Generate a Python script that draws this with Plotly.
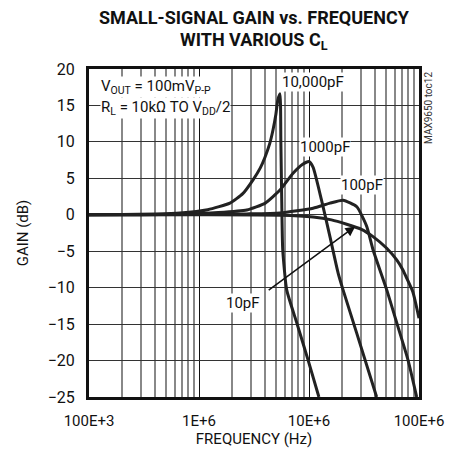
import plotly.graph_objects as go

# ---- data (frequency in Hz, gain in dB) ----
f_10000pF = [1e5, 2e5, 4e5, 6.7e5, 1.2e6, 1.91e6, 2.5e6, 3.1e6, 3.6e6, 3.98e6, 4.4e6, 4.7e6, 5.0e6, 5.2e6, 5.45e6,
             5.55e6, 5.65e6, 5.77e6, 6.27e6, 7.73e6, 9.8e6, 12.3e6]
g_10000pF = [0.0, 0.05, 0.12, 0.25, 0.7, 1.6, 2.9, 4.8, 6.4, 7.9, 9.8, 11.6, 13.8, 15.7, 16.6,
             10.0, 2.0, -4.8, -10.3, -14.8, -19.9, -25.0]

f_1000pF = [1e5, 3e5, 6.7e5, 1.5e6, 2.72e6, 4.0e6, 5.45e6, 7.16e6, 8.7e6, 10.0e6, 10.9e6, 13.0e6, 15.5e6, 18.4e6,
            20.4e6, 27.1e6, 41.2e6]
g_1000pF = [0.0, 0.02, 0.08, 0.3, 0.65, 1.6, 3.4, 5.7, 6.9, 7.3, 6.5, 2.0, -3.0, -8.0,
            -10.3, -16.2, -25.0]

f_100pF = [1e5, 1e6, 2.72e6, 5.45e6, 10.9e6, 15.5e6, 20.4e6, 27.2e6, 33.5e6, 38.2e6, 50.9e6, 62.7e6, 79.4e6, 95.3e6]
g_100pF = [0.0, 0.05, 0.12, 0.25, 0.9, 1.6, 2.0, 1.1, -1.6, -4.8, -10.3, -14.8, -19.9, -25.0]

f_10pF = [1e5, 1e6, 5.45e6, 10.9e6, 16e6, 22e6, 30e6, 38.2e6, 50.9e6, 62.7e6, 71.6e6, 77.3e6, 88e6, 100e6]
g_10pF = [0.0, 0.0, -0.05, -0.3, -0.7, -1.3, -2.0, -3.0, -4.6, -6.2, -7.6, -8.7, -10.6, -14.2]

x_tickvals = [1e5, 1e6, 1e7, 1e8]
x_ticktext = ["100E+3", "1E+6", "10E+6", "100E+6"]
x_minorvals = [m * 10 ** d for d in (5, 6, 7) for m in range(2, 10)]
y_tickvals = [20, 15, 10, 5, 0, -5, -10, -15, -20, -25]

FONT = "Roboto, Liberation Sans, sans-serif"
# page body has an 8px default margin, so the figure is sized to fit the 459x457 window
W, H = 451, 449
ML, MR, MT, MB = 81, 40, 61, 60
PH = H - MT - MB

fig = go.Figure()
for fx, gy in [(f_10000pF, g_10000pF), (f_1000pF, g_1000pF), (f_100pF, g_100pF), (f_10pF, g_10pF)]:
    fig.add_trace(go.Scatter(x=fx, y=gy, mode="lines",
                             line=dict(color="#222222", width=3, shape="spline", smoothing=0.5),
                             showlegend=False, hoverinfo="skip"))

fig.update_layout(
    width=W, height=H,
    margin=dict(l=ML, r=MR, t=MT, b=MB),
    paper_bgcolor="white", plot_bgcolor="white",
    font=dict(family=FONT, color="#111111", size=15),
)
fig.add_annotation(x=0.5, y=1 + (MT - 10) / PH, xref="paper", yref="paper", showarrow=False,
                   xanchor="center", yanchor="middle",
                   text="<b>SMALL-SIGNAL GAIN vs. FREQUENCY</b>", font=dict(family=FONT, size=18, color="#111111"))
fig.add_annotation(x=0.5, y=1 + (MT - 33) / PH, xref="paper", yref="paper", showarrow=False,
                   xanchor="center", yanchor="middle",
                   text="<b>WITH VARIOUS C<sub>L</sub></b>", font=dict(family=FONT, size=18, color="#111111"))

fig.update_xaxes(type="log", range=[5, 8], tickvals=x_tickvals, ticktext=x_ticktext,
                 showgrid=True, gridcolor="#111111", gridwidth=1,
                 minor=dict(tickvals=x_minorvals, showgrid=True, gridcolor="#888888", gridwidth=1.5, ticks=""),
                 ticks="", showline=True, linecolor="#111111", linewidth=3, mirror=True,
                 zeroline=False, automargin=False, ticklabelstandoff=8,
                 title=dict(text="FREQUENCY (Hz)", font=dict(size=15), standoff=4),
                 tickfont=dict(size=15))
fig.update_yaxes(range=[-25, 20], tickvals=y_tickvals, showgrid=True, gridcolor="#333333", gridwidth=1,
                 ticks="", showline=True, linecolor="#111111", linewidth=3, mirror=True,
                 zeroline=False, automargin=False, ticklabelstandoff=8,
                 title=dict(text="GAIN (dB)", font=dict(size=15), standoff=16),
                 tickfont=dict(size=16))

ann = dict(showarrow=False, bgcolor="white", font=dict(size=15, color="#111111"), borderpad=0)
fig.add_annotation(x=7.036, y=18.2, xref="x", yref="y", text="10,000pF", **ann)
fig.add_annotation(x=7.145, y=9.3, xref="x", yref="y", text="1000pF", **ann)
fig.add_annotation(x=7.48, y=4.1, xref="x", yref="y", text="100pF", **ann)
fig.add_annotation(x=6.40, y=-12.1, xref="x", yref="y", text="10pF", **ann)
fig.add_annotation(x=7.42, y=-1.6, ax=6.62, ay=-10.5, xref="x", yref="y", axref="x", ayref="y",
                   text="", showarrow=True, arrowhead=2, arrowsize=1.3, arrowwidth=1.5, arrowcolor="#111111")
fig.add_annotation(x=0.033, y=17.5, xref="paper", yref="y", xanchor="left",
                   text="V<sub>OUT</sub> = 100mV<sub>P-P</sub>", **ann)
fig.add_annotation(x=0.033, y=14.6, xref="paper", yref="y", xanchor="left",
                   text="R<sub>L</sub> = 10kΩ TO V<sub>DD</sub>/2", **ann)
fig.add_annotation(x=1.03, y=0.997, xref="paper", yref="paper", xanchor="center", yanchor="top",
                   text="MAX9650 toc12", textangle=-90, showarrow=False,
                   font=dict(size=10, color="#333333"))

fig.write_html("out.html")
